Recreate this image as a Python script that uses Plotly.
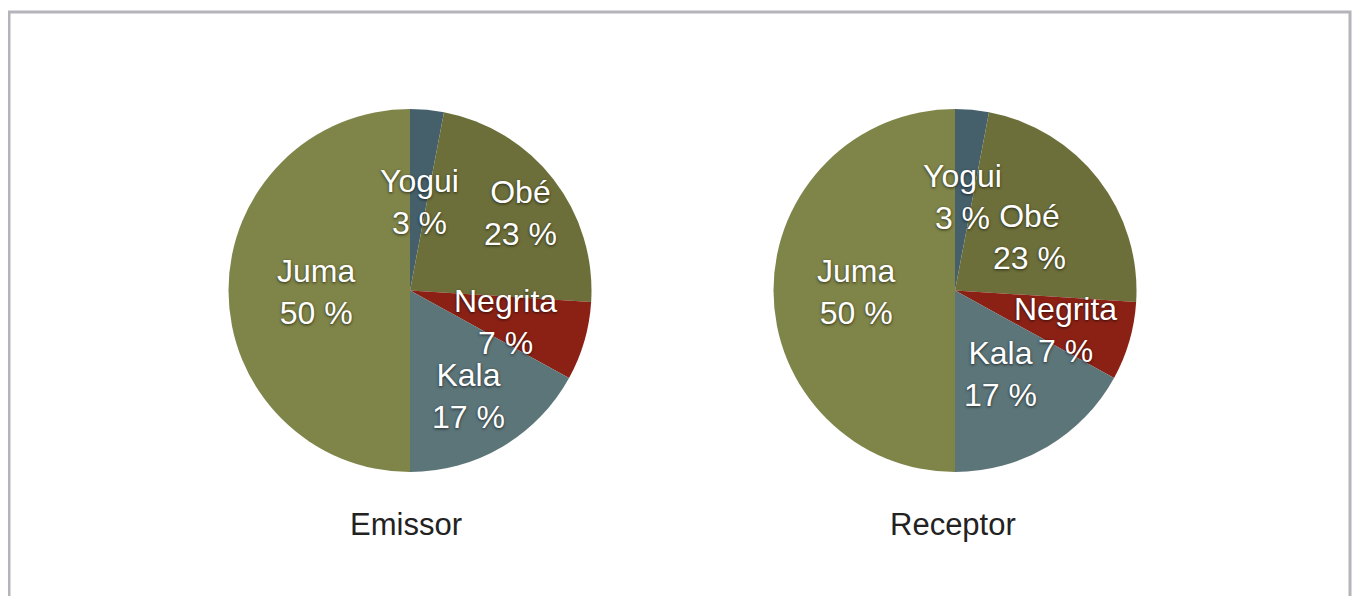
import plotly.graph_objects as go

# the page puts the plot 8px in from the corner, so the figure is made
# 8px smaller to fit the window
OFF = 8
W, H = 1345, 588

labels = ["Yogui", "Obé", "Negrita", "Kala", "Juma"]
emissor = [3, 23, 7, 17, 50]
receptor = [3, 23, 7, 17, 50]
titles = ["Emissor", "Receptor"]

colors = ["#45606a", "#6c6f3a", "#8b2115", "#5c7579", "#7f8448"]

# label block centres, in page pixels (hand placed as in the original)
label_pos = [
    [(419, 202), (520, 213), (505, 322), (468, 396), (316, 292)],
    [(962, 197), (1029, 237), (1065, 330), (1000, 374), (856, 292)],
]
pie_boxes = [(228, 109, 592, 472), (773, 109, 1137, 472)]
title_pos = [(406, 524), (953, 524)]


def px(x, y):
    return (x - OFF) / W, 1 - (y - OFF) / H


fig = go.Figure()
for i, vals in enumerate([emissor, receptor]):
    x0, y0, x1, y1 = pie_boxes[i]
    (dx0, dy1), (dx1, dy0) = px(x0, y0), px(x1, y1)
    fig.add_trace(go.Pie(
        labels=labels, values=vals, sort=False, direction="clockwise",
        rotation=0, textinfo="none", hoverinfo="label+percent",
        marker=dict(colors=colors, line=dict(width=0)),
        domain=dict(x=[dx0, dx1], y=[dy0, dy1]),
        showlegend=False,
    ))
    total = sum(vals)
    for lab, v, (lx, ly) in zip(labels, vals, label_pos[i]):
        ax, ay = px(lx, ly)
        fig.add_annotation(
            x=ax, y=ay, xref="paper", yref="paper", showarrow=False,
            text=f"{lab}<br>{round(100 * v / total)} %",
            xanchor="center", yanchor="middle",
            font=dict(family="Liberation Sans, Arial", size=32, color="white",
                      shadow="0px 1px 3px rgba(0,0,0,0.65)"),
        )
    tx, ty = px(*title_pos[i])
    fig.add_annotation(
        x=tx, y=ty, xref="paper", yref="paper", showarrow=False,
        text=titles[i], xanchor="center", yanchor="middle",
        font=dict(family="Liberation Sans, Arial", size=31, color="#222222"),
    )

# outer frame
fx0, fy1 = px(9, 12)
fx1, _ = px(1350, 0)
fig.add_shape(type="rect", xref="paper", yref="paper",
              x0=fx0, x1=fx1, y0=-0.05, y1=fy1,
              line=dict(color="#b4b4ba", width=3))

fig.update_layout(
    width=W, height=H,
    margin=dict(l=0, r=0, t=0, b=0),
    paper_bgcolor="white", plot_bgcolor="white",
)
fig.write_html("out.html")
